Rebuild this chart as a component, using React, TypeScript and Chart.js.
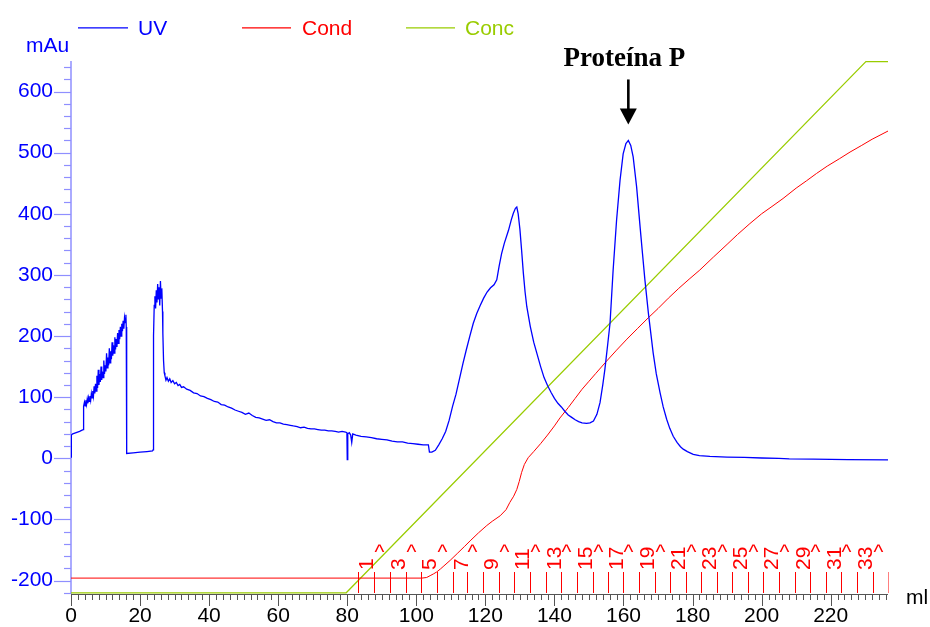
import React, { useEffect, useRef } from 'react';
import { Chart, registerables } from 'chart.js';

Chart.register(...registerables);

// ---- data (ml, mAu) ----
const uvTrace: [number, number][] = [
  [0, 2], [0.1, 38], [0.5, 40], [1.5, 42], [2.5, 44], [3.2, 46], [3.5, 47], [3.6, 78],
  [3.7, 85], [3.9, 92], [4.1, 86], [4.3, 95], [4.5, 88], [4.7, 97], [4.9, 90], [5.1, 99],
  [5.3, 93], [5.5, 102], [5.7, 95], [5.9, 106], [6.1, 99], [6.3, 110], [6.5, 102], [6.7, 118],
  [6.9, 106], [7.1, 122], [7.3, 110], [7.5, 135], [7.7, 115], [7.9, 145], [8.1, 120], [8.3, 138],
  [8.5, 125], [8.7, 150], [8.9, 128], [9.1, 142], [9.3, 132], [9.5, 160], [9.7, 138], [9.9, 152],
  [10.1, 142], [10.3, 172], [10.5, 148], [10.7, 165], [10.9, 152], [11.1, 180], [11.3, 156], [11.5, 175],
  [11.7, 162], [11.9, 190], [12.1, 168], [12.3, 185], [12.5, 172], [12.7, 198], [12.9, 178], [13.1, 195],
  [13.3, 182], [13.5, 205], [13.7, 188], [13.9, 210], [14.1, 195], [14.3, 215], [14.5, 200], [14.7, 220],
  [14.9, 208], [15.1, 225], [15.3, 212], [15.5, 230], [15.7, 222], [15.9, 235], [16.0, 215], [16.05, 10],
  [16.2, 8], [18, 9], [20, 10], [22, 11], [23.6, 12], [23.8, 14],
  [23.9, 200], [24.1, 250], [24.3, 265], [24.5, 245], [24.7, 275], [24.9, 255], [25.1, 285], [25.3, 260],
  [25.5, 280], [25.7, 250], [25.9, 290], [26.1, 262], [26.3, 278], [26.5, 240], [26.6, 205], [26.8, 160],
  [27.0, 140], [27.2, 135], [27.5, 128], [27.8, 132], [28.2, 126], [28.6, 130], [29, 124], [29.5, 127],
  [30, 122], [30.5, 124], [31, 119], [31.5, 121], [32, 116], [32.6, 117], [33.5, 113], [34.5, 111],
  [35.5, 107], [36.5, 106], [37.5, 102], [38.5, 101], [39.5, 98], [40.5, 96], [41.5, 93], [42.5, 92],
  [43.5, 88], [44.5, 87], [45.5, 84], [46.5, 82], [47.5, 79], [48.5, 77], [49.5, 75], [50.5, 72],
  [51.5, 74], [52.5, 70], [53.5, 67], [54.5, 66], [55.5, 64], [56.5, 62], [57.5, 63], [58.5, 60],
  [59.5, 58], [60.5, 58], [61.5, 56], [62.5, 55], [63.5, 54], [64.4, 53], [65.5, 52], [66.5, 50],
  [67.5, 51], [68.5, 49], [69.5, 48], [70.5, 48], [71.5, 47], [72.5, 46], [73.5, 46], [74.5, 45],
  [75.5, 45], [76.5, 44], [77.5, 43], [78.5, 44], [79.5, 43], [79.9, 42], [80.0, -2], [80.15, 40],
  [80.6, 42], [81.0, 38], [81.3, 26], [81.6, 40], [82.5, 38], [84, 36], [85.5, 35], [87, 34],
  [88.5, 32], [90, 31], [91.5, 30], [93, 28], [94.5, 27], [96, 27], [97.5, 25], [99, 24],
  [100.5, 23], [102, 22], [103.5, 22], [103.8, 10], [104.5, 10], [105.5, 13], [106.5, 22], [107.5, 32],
  [108.5, 44], [109.5, 62], [110.5, 85], [111.5, 105], [112.5, 130], [113.5, 155], [114.5, 178], [115.5, 200],
  [116.5, 221], [117.5, 237], [118.5, 250], [119.5, 262], [120.5, 272], [121.5, 279], [122.5, 284], [123.3, 292],
  [124, 315], [124.7, 335], [125.5, 352], [126.7, 373], [127.5, 390], [128.1, 401], [128.7, 409], [129.1, 411],
  [129.5, 400], [130, 375], [130.5, 340], [131, 303], [131.5, 272], [132, 248], [133, 216], [134, 190],
  [135, 170], [136, 150], [137, 132], [138, 119], [139, 108], [140, 98], [141, 90], [142, 84],
  [143, 77], [144, 71], [145, 67], [146, 63], [147, 60], [148, 58], [149.3, 57], [150.3, 58],
  [151.3, 61], [152.3, 72], [153.2, 91], [154, 120], [154.6, 145], [155.4, 185], [156.1, 221], [157, 308],
  [158, 390], [159, 455], [159.9, 498], [160.7, 515], [161.4, 520], [162.1, 512], [162.8, 493], [163.8, 444],
  [164.8, 379], [165.5, 335], [166.2, 292], [167.2, 238], [168.6, 172], [169.5, 138], [170.6, 107], [171.5, 84],
  [172.5, 64], [173.4, 49], [174.4, 36], [175.5, 26], [176.5, 19], [177.3, 15], [178.5, 11], [180.2, 6.5],
  [182, 4.5], [185, 3], [190, 2], [195, 1.5], [200, 0.5], [205, 0], [208, -1], [215, -1.5],
  [225, -2], [236.6, -2.5],
];

const condTrace: [number, number][] = [
  [0, -196], [101.6, -196], [103, -195], [104, -192], [105, -189], [105.9, -186], [107, -181], [108, -176],
  [109.8, -167], [112, -155], [114, -144], [115.6, -135], [118, -122], [120.4, -110], [122, -103], [124.3, -94],
  [126, -84], [127.1, -72], [128.2, -62], [129.1, -51], [129.8, -38], [130.5, -23], [131.3, -10], [132.4, 1],
  [134, 11], [136, 24], [138, 38], [140, 53], [141.6, 66], [144, 83], [146, 98], [148, 113],
  [150, 126], [152, 139], [155.1, 159], [158, 177], [161, 195], [164, 212], [167.2, 230], [170, 245],
  [173, 262], [176, 278], [179, 293], [182.1, 308], [186, 329], [190, 350], [193, 366], [196.6, 384],
  [200, 400], [203, 412], [206.2, 425], [210, 442], [213, 454], [215.9, 466], [219, 478], [222.5, 490],
  [225.6, 501], [229, 512], [232, 522], [236.8, 536],
];

const concTrace: [number, number][] = [
  [0, -220], [79.7, -220], [230.2, 649], [236.6, 649],
];

const fractionMl: number[] = [
  83.2, 87.8, 92.3, 96.9, 101.4, 105.9, 110.5, 114.8, 119.4, 123.9, 128.3, 132.9,
  137.5, 142.0, 146.6, 151.2, 155.5, 159.9, 164.5, 169.0, 173.4, 178.0, 182.5, 187.1,
  191.5, 196.1, 200.4, 205.0, 209.6, 214.1, 218.6, 223.1, 227.6, 232.3, 236.6,
];
const fractionLabels: string[] = [
  '1', '^', '3', '^', '5', '^', '7', '^', '9', '^', '11', '^', '13', '^', '15', '^', '17', '^',
  '19', '^', '21', '^', '23', '^', '25', '^', '27', '^', '29', '^', '31', '^', '33', '^', '35',
];

const seriesNames = ['UV', 'Cond', 'Conc'];
const yUnit = 'mAu';
const xUnit = 'ml';
const peakLabel = 'Proteína P';
const peakMl = 161.4;
const peakMau = 520;

const X_MIN = 0;
const X_MAX = 236.6;
const Y_MIN = -222;
const Y_MAX = 650;

// ---- styles ----
const UV_COLOR = '#0000ff';
const COND_COLOR = '#ff0000';
const CONC_COLOR = '#99cc00';
const Y_AXIS_COLOR = '#8f8fff';
const X_AXIS_COLOR = '#555555';
const SANS = '"Liberation Sans", Arial, sans-serif';
const SERIF = '"Liberation Serif", "Times New Roman", serif';

const decorPlugin = {
  id: 'decor',
  beforeDatasetsDraw(chart: any) {
    const { ctx, chartArea: ca, scales } = chart;
    const x = scales.x;
    const y = scales.y;
    ctx.save();
    // y axis line + ticks
    ctx.strokeStyle = Y_AXIS_COLOR;
    ctx.lineWidth = 1.5;
    ctx.beginPath();
    ctx.moveTo(ca.left, ca.top);
    ctx.lineTo(ca.left, ca.bottom);
    ctx.stroke();
    ctx.lineWidth = 1.2;
    for (let v = -220; v <= 640; v += 20) {
      const py = Math.round(y.getPixelForValue(v)) + 0.5;
      const len = v % 100 === 0 ? 17 : 7;
      ctx.beginPath();
      ctx.moveTo(ca.left - len, py);
      ctx.lineTo(ca.left, py);
      ctx.stroke();
    }
    // x axis line + ticks
    ctx.strokeStyle = X_AXIS_COLOR;
    ctx.lineWidth = 1;
    ctx.beginPath();
    ctx.moveTo(ca.left, ca.bottom + 0.5);
    ctx.lineTo(ca.right, ca.bottom + 0.5);
    ctx.stroke();
    for (let v = 0; v <= X_MAX; v += 2) {
      const px = Math.round(x.getPixelForValue(v)) + 0.5;
      const len = v % 20 === 0 ? 12 : 6;
      ctx.beginPath();
      ctx.moveTo(px, ca.bottom);
      ctx.lineTo(px, ca.bottom + len);
      ctx.stroke();
    }
    ctx.restore();
  },
  afterDatasetsDraw(chart: any) {
    const { ctx, chartArea: ca, scales } = chart;
    const x = scales.x;
    const y = scales.y;
    ctx.save();
    ctx.beginPath();
    ctx.rect(ca.left, 0, ca.right - ca.left + 0.5, chart.height);
    ctx.clip();
    ctx.fillStyle = COND_COLOR;
    ctx.font = `21px ${SANS}`;
    fractionMl.forEach((ml, i) => {
      const px = Math.round(x.getPixelForValue(ml));
      ctx.fillStyle = COND_COLOR;
      ctx.fillRect(px, ca.bottom - 22, 1, 21);
      const lab = fractionLabels[i];
      if (lab === '^') {
        ctx.textAlign = 'center';
        ctx.textBaseline = 'alphabetic';
        ctx.fillText(lab, px + 5.5, ca.bottom - 35.5);
      } else {
        ctx.save();
        ctx.translate(px + 14.5, ca.bottom - 24);
        ctx.rotate(-Math.PI / 2);
        ctx.textAlign = 'left';
        ctx.textBaseline = 'alphabetic';
        ctx.fillText(lab, 0, 0);
        ctx.restore();
      }
    });
    ctx.restore();

    // peak annotation
    const ax = x.getPixelForValue(peakMl);
    const tipY = y.getPixelForValue(peakMau) - 16;
    ctx.save();
    ctx.fillStyle = '#000';
    ctx.strokeStyle = '#000';
    ctx.lineWidth = 2.6;
    ctx.beginPath();
    ctx.moveTo(ax, tipY - 45);
    ctx.lineTo(ax, tipY - 14);
    ctx.stroke();
    ctx.beginPath();
    ctx.moveTo(ax - 8.5, tipY - 16);
    ctx.lineTo(ax + 8.5, tipY - 16);
    ctx.lineTo(ax, tipY);
    ctx.closePath();
    ctx.fill();
    ctx.font = `bold 27px ${SERIF}`;
    ctx.textAlign = 'center';
    ctx.textBaseline = 'alphabetic';
    ctx.fillText(peakLabel, ax - 4, tipY - 58);
    ctx.restore();
  },
  afterDraw(chart: any) {
    const { ctx, chartArea: ca } = chart;
    ctx.save();
    ctx.font = `21px ${SANS}`;
    ctx.textBaseline = 'alphabetic';
    ctx.textAlign = 'left';
    // unit labels
    ctx.fillStyle = UV_COLOR;
    ctx.fillText(yUnit, 26, 51.5);
    ctx.fillStyle = '#000000';
    ctx.fillText(xUnit, ca.right + 18, ca.bottom + 10);
    // legend
    const items = [
      { name: seriesNames[0], color: UV_COLOR, x0: 78, x1: 128, tx: 138 },
      { name: seriesNames[1], color: COND_COLOR, x0: 242, x1: 291, tx: 302 },
      { name: seriesNames[2], color: CONC_COLOR, x0: 406, x1: 455, tx: 465 },
    ];
    items.forEach((it) => {
      ctx.strokeStyle = it.color;
      ctx.lineWidth = 1.3;
      ctx.beginPath();
      ctx.moveTo(it.x0, 27.8);
      ctx.lineTo(it.x1, 27.8);
      ctx.stroke();
      ctx.fillStyle = it.color;
      ctx.fillText(it.name, it.tx, 35);
    });
    ctx.restore();
  },
};

export default function App() {
  const ref = useRef<HTMLCanvasElement>(null);
  useEffect(() => {
    const prevMargin = document.body.style.margin;
    document.body.style.margin = '0';
    const toPts = (arr: [number, number][]) => arr.map(([xv, yv]) => ({ x: xv, y: yv }));
    const chart = new Chart(ref.current as HTMLCanvasElement, {
      type: 'line',
      data: {
        datasets: [
          { label: seriesNames[0], data: toPts(uvTrace), borderColor: UV_COLOR, borderWidth: 1.3, pointRadius: 0, tension: 0 },
          { label: seriesNames[1], data: toPts(condTrace), borderColor: COND_COLOR, borderWidth: 1, pointRadius: 0, tension: 0 },
          { label: seriesNames[2], data: toPts(concTrace), borderColor: CONC_COLOR, borderWidth: 1.2, pointRadius: 0, tension: 0 },
        ],
      } as any,
      options: {
        responsive: false,
        animation: false,
        events: [],
        layout: { padding: { left: 0, top: 61, right: 42, bottom: 0 } },
        plugins: { legend: { display: false }, tooltip: { enabled: false } },
        scales: {
          x: {
            type: 'linear',
            min: X_MIN,
            max: X_MAX,
            grid: { display: false, drawTicks: false },
            border: { display: false },
            ticks: {
              stepSize: 20,
              includeBounds: false,
              autoSkip: false,
              maxRotation: 0,
              padding: 10,
              color: '#000000',
              font: { family: SANS, size: 21 },
            },
            afterFit: (s: any) => { s.height = 33; },
          },
          y: {
            type: 'linear',
            min: Y_MIN,
            max: Y_MAX,
            grid: { display: false, drawTicks: false },
            border: { display: false },
            ticks: {
              stepSize: 100,
              includeBounds: false,
              padding: 18,
              color: UV_COLOR,
              font: { family: SANS, size: 21 },
            },
            afterFit: (s: any) => { s.width = 71; },
          },
        },
      } as any,
      plugins: [decorPlugin],
    });
    return () => {
      chart.destroy();
      document.body.style.margin = prevMargin;
    };
  }, []);
  return <canvas ref={ref} width={930} height={627} style={{ display: 'block' }} />;
}
